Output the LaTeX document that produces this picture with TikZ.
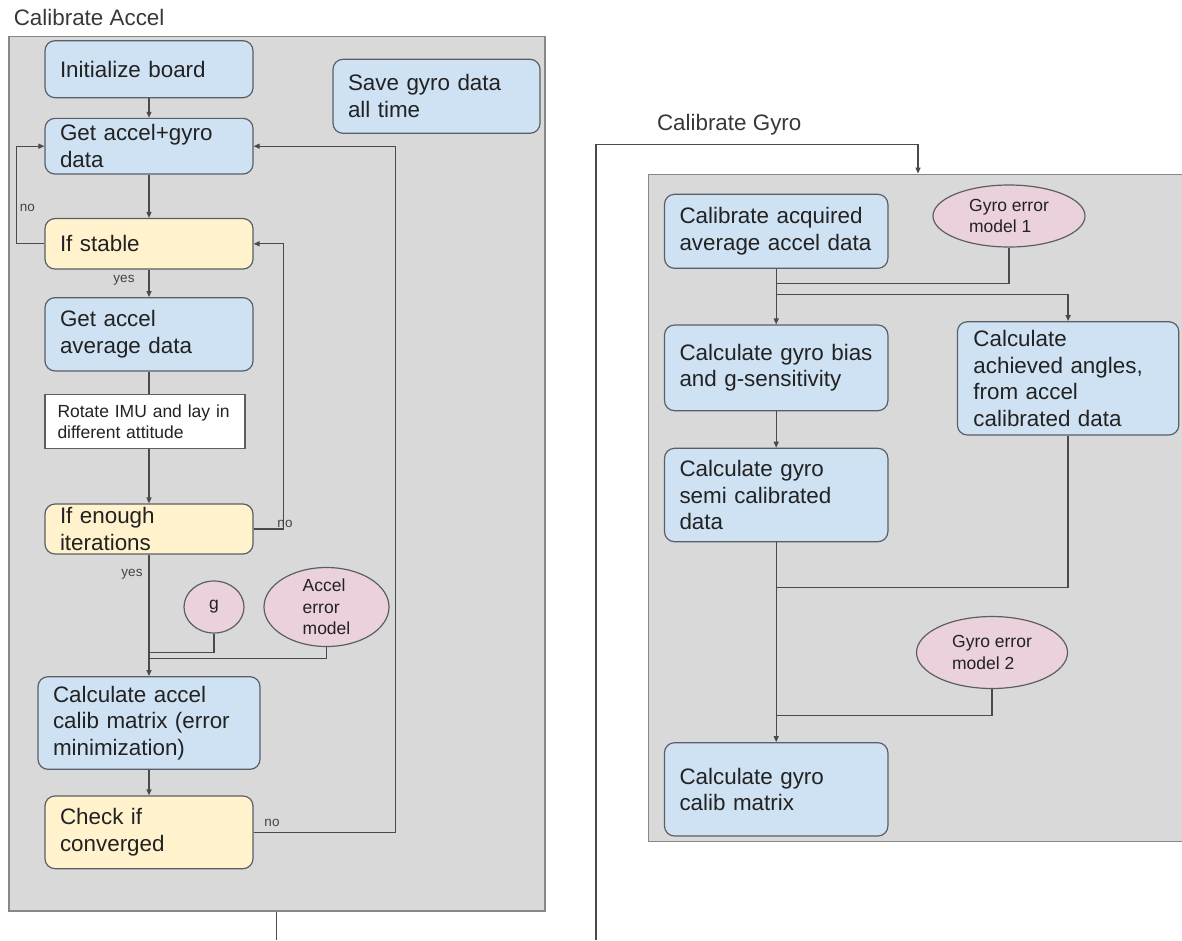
\documentclass[tikz,border=0pt]{standalone}
\usepackage{fontspec}
\setmainfont{Liberation Sans}
\usetikzlibrary{arrows.meta,shapes.geometric,calc}

\definecolor{panelfill}{HTML}{D9D9D9}
\definecolor{panelline}{HTML}{878787}
\definecolor{procfill}{HTML}{CFE2F3}
\definecolor{decfill}{HTML}{FFF2CC}
\definecolor{datafill}{HTML}{EAD1DC}
\definecolor{edge}{HTML}{5A5F66}
\definecolor{wire}{HTML}{4A4A4A}
\definecolor{ink}{HTML}{222222}

\newcommand{\cfBig}{\fontsize{22.4}{26.7}\selectfont}
\newcommand{\cfSmall}{\fontsize{17.5}{21.5}\selectfont}
\newcommand{\cfTiny}{\fontsize{13.5}{16}\selectfont}

\tikzset{
  cellbase/.style={draw=edge, line width=1.2pt, inner xsep=15pt, inner ysep=0pt,
    align=left, font=\cfBig, text=ink},
  procbox/.style={cellbase, rounded corners=10pt, fill=procfill},
  decbox/.style={cellbase, rounded corners=10pt, fill=decfill},
  notebox/.style={cellbase, fill=white, inner xsep=12.5pt, font=\cfSmall},
  databub/.style={ellipse, draw=edge, line width=1.2pt, fill=datafill, inner sep=0pt,
    align=left, font=\cfSmall, text=ink},
  panel/.style={draw=panelline, line width=1.5pt, fill=panelfill, inner sep=0pt},
  conn/.style={draw=wire, line width=1.3pt},
  arr/.style={conn, -{Triangle[length=6pt,width=5pt]}},
  tag/.style={font=\cfTiny, text=ink!85, inner sep=0pt},
  heading/.style={font=\cfBig, text=ink!90, inner sep=0pt, anchor=base west},
}

\begin{document}
\begin{tikzpicture}[x=1pt, y=-1pt]
\useasboundingbox (0,0) rectangle (1182,940);
\clip (0,0) rectangle (1182,940);

% ---------- accelerometer calibration ----------
\node[heading] (titleA) at (13.6,25) {Calibrate Accel};
\node[panel, minimum width=536pt, minimum height=874.3pt] (accelbg) at (277,473.85) {};

\node[procbox, minimum width=208pt, text width=178pt, minimum height=57pt] (init) at (149,69.2) {Initialize board};
\node[procbox, minimum width=207pt, text width=177pt, minimum height=74pt] (save) at (436.5,96.3) {Save gyro data\\all time};
\node[procbox, minimum width=208pt, text width=178pt, minimum height=55.7pt] (get) at (149,146.2) {Get accel+gyro\\data};
\node[decbox, minimum width=208pt, text width=178pt, minimum height=50.5pt] (stable) at (149,243.8) {If stable};
\node[procbox, minimum width=208pt, text width=178pt, minimum height=73.3pt] (avg) at (149,334.3) {Get accel\\average data};
\node[notebox, minimum width=200pt, text width=175pt, minimum height=54.4pt] (rotate) at (145,421.5) {Rotate IMU and lay in\\different attitude};
\node[decbox, minimum width=208pt, text width=178pt, minimum height=50pt] (enough) at (149,529) {If enough\\iterations};
\node[databub, minimum width=60pt, minimum height=52pt, align=center] (g) at (214,607) {g};
\node[databub, minimum width=125pt, minimum height=73pt] (aem) at (326.5,607) {Accel\\error\\model};
\node[procbox, minimum width=222pt, text width=192pt, minimum height=92.6pt] (calc) at (149,723) {Calculate accel\\calib matrix (error\\minimization)};
\node[decbox, minimum width=208pt, text width=178pt, minimum height=72.7pt] (conv) at (149,832.3) {Check if\\converged};

% main flow
\draw[arr] (init.south) -- (get.north);
\draw[arr] (get.south) -- (stable.north);
\draw[arr] (stable.south) -- (avg.north);
\draw[conn] (avg.south) -- (avg.south |- rotate.north);
\draw[arr] (avg.south |- rotate.south) -- (enough.north);
\draw[arr] (enough.south) -- (calc.north);
\draw[arr] (calc.south) -- (conv.north);

% inputs joining the calibration step
\draw[conn] (g.south) |- ([yshift=23.4pt]calc.north);
\draw[conn] (aem.south) |- ([yshift=17.4pt]calc.north);

% loops back
\draw[arr] (stable.west) -- ++(-28.2,0) |- (get.west);
\draw[arr] (enough.east) -- ++(30,0) |- (stable.east);
\draw[arr] (conv.east) -- ++(141.6,0) |- (get.east);

\node[tag] (noA) at (27.5,207.5) {no};
\node[tag] (yesA) at (124,280) {yes};
\node[tag] (noB) at (285,524) {no};
\node[tag] (yesB) at (132,574) {yes};
\node[tag] (noC) at (272,823) {no};

% output of the accel stage
\coordinate (accelout) at (276.7,940);
\draw[conn] (accelbg.south -| accelout) -- (accelout);

% ---------- gyroscope calibration ----------
\node[heading] (titleG) at (656.8,130) {Calibrate Gyro};
\node[panel, minimum width=546.7pt, minimum height=667.4pt] (gyrobg) at (921.65,508) {};

\coordinate (gyroin) at (596,940);
\coordinate (gturn) at (918,144.3);
\draw[arr] (gyroin) |- (gturn) -- (gturn |- gyrobg.north);

\node[procbox, minimum width=223.4pt, text width=193.4pt, minimum height=74pt] (cal1) at (776.2,231.3) {Calibrate acquired\\average accel data};
\node[databub, minimum width=152pt, minimum height=62pt] (gem1) at (1009,216) {Gyro error\\model 1};
\node[procbox, minimum width=223.4pt, text width=193.4pt, minimum height=85.7pt] (bias) at (776.2,367.85) {Calculate gyro bias\\and g-sensitivity};
\node[procbox, minimum width=221.4pt, text width=189.4pt, inner xsep=16pt, minimum height=113.3pt] (angles) at (1068.1,378.35) {Calculate\\achieved angles,\\from accel\\calibrated data};
\node[procbox, minimum width=223.4pt, text width=193.4pt, minimum height=93.4pt] (semi) at (776.2,495) {Calculate gyro\\semi calibrated\\data};
\node[databub, minimum width=151pt, minimum height=72pt] (gem2) at (992,652.5) {Gyro error\\model 2};
\node[procbox, minimum width=223.4pt, text width=193.4pt, minimum height=93.3pt] (mat) at (776.2,789.35) {Calculate gyro\\calib matrix};

\draw[arr] (cal1.south) -- (bias.north);
\draw[conn] (gem1.south) |- ([yshift=40.7pt]bias.north);
\draw[arr] ([yshift=30pt]bias.north) -| (angles.north);
\draw[arr] (bias.south) -- (semi.north);
\draw[arr] (semi.south) -- (mat.north);
\draw[conn] (angles.south) |- ([yshift=154.4pt]mat.north);
\draw[conn] (gem2.south) |- ([yshift=26.7pt]mat.north);
\end{tikzpicture}
\end{document}
